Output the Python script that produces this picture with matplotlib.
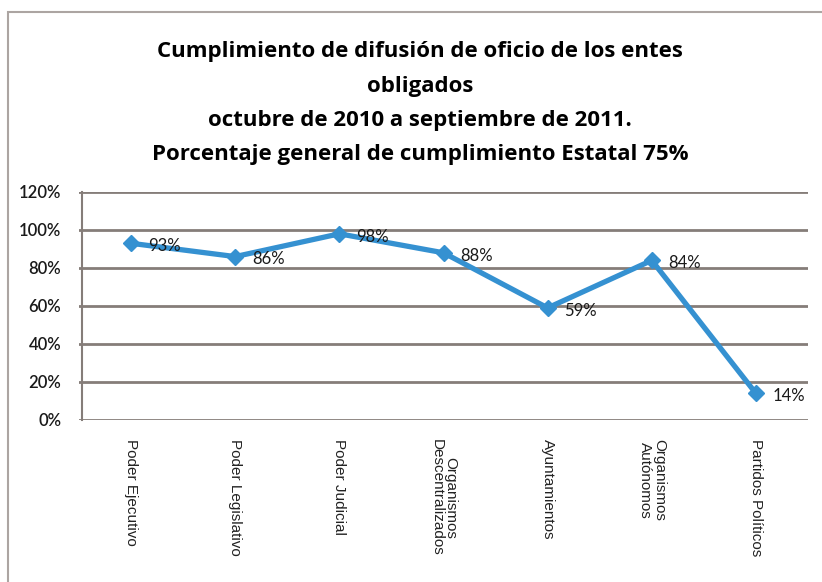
import numpy as np
import matplotlib.pyplot as plt
from matplotlib.patches import Rectangle

# ---------------------------------------------
# Datos
# ---------------------------------------------
categorias = ['Poder Ejecutivo', 'Poder Legislativo', 'Poder Judicial',
              'Organismos\nDescentralizados', 'Ayuntamientos',
              'Organismos\nAutónomos', 'Partidos Políticos']
cumplimiento = [93, 86, 98, 88, 59, 84, 14]
ticks_y = [0, 20, 40, 60, 80, 100, 120]

titulo = ["Cumplimiento de difusión de oficio de los entes",
          "obligados",
          "octubre de 2010 a septiembre de 2011.",
          "Porcentaje general de cumplimiento Estatal 75%"]

azul = '#3591d1'
gris = '#857d79'

fig = plt.figure(figsize=(8.22, 5.82), dpi=100)
W, H = 822, 582

# marco exterior
fig.patches.append(Rectangle((8 / W, -0.05), 1.1, 1 - 12 / H + 0.05,
                             transform=fig.transFigure, fill=False,
                             edgecolor='#aca5a2', linewidth=1.5))

ax = fig.add_axes([79 / W, 1 - 420 / H, 729 / W, 228 / H])
x = np.arange(len(categorias))

# ejes (antes de las etiquetas: set_position reinicia los ticks)
for s in ['top', 'right', 'bottom']:
    ax.spines[s].set_visible(False)
ax.spines['left'].set_color(gris)
ax.spines['left'].set_linewidth(1.5)
ax.spines['left'].set_position(('data', -0.47))

for t in ticks_y:
    ax.axhline(t, color=gris, linewidth=2, zorder=1)

ax.plot(x, cumplimiento, color=azul, linewidth=3.8, marker='D',
        markersize=8, zorder=3)

for xi, v in zip(x, cumplimiento):
    ax.annotate(f'{v}%', (xi, v), xytext=(12, -2), textcoords='offset points',
                ha='left', va='center', fontsize=12, family='Lato',
                color='#1a1a1a', zorder=4)

ax.tick_params(axis='y', length=0, pad=15)
ax.tick_params(axis='x', length=0, pad=14)
ax.set_xlim(-0.5, 6.5)
ax.set_ylim(0, 120)
ax.set_yticks(ticks_y)
ax.set_yticklabels([f'{t}%' for t in ticks_y], family='Lato', fontsize=12,
                   fontweight='semibold', color='#1a1a1a')
ax.set_xticks(x)
ax.set_xticklabels(categorias, rotation=270, family='Liberation Sans',
                   fontsize=11, va='top', ha='center', linespacing=1.0,
                   color='#222222')

for i, linea in enumerate(titulo):
    fig.text(420 / W, 1 - (52 + 34.3 * i) / H, linea, ha='center',
             va='center', fontsize=16, fontweight='bold', family='Open Sans')

plt.savefig('out.png', dpi=100)
